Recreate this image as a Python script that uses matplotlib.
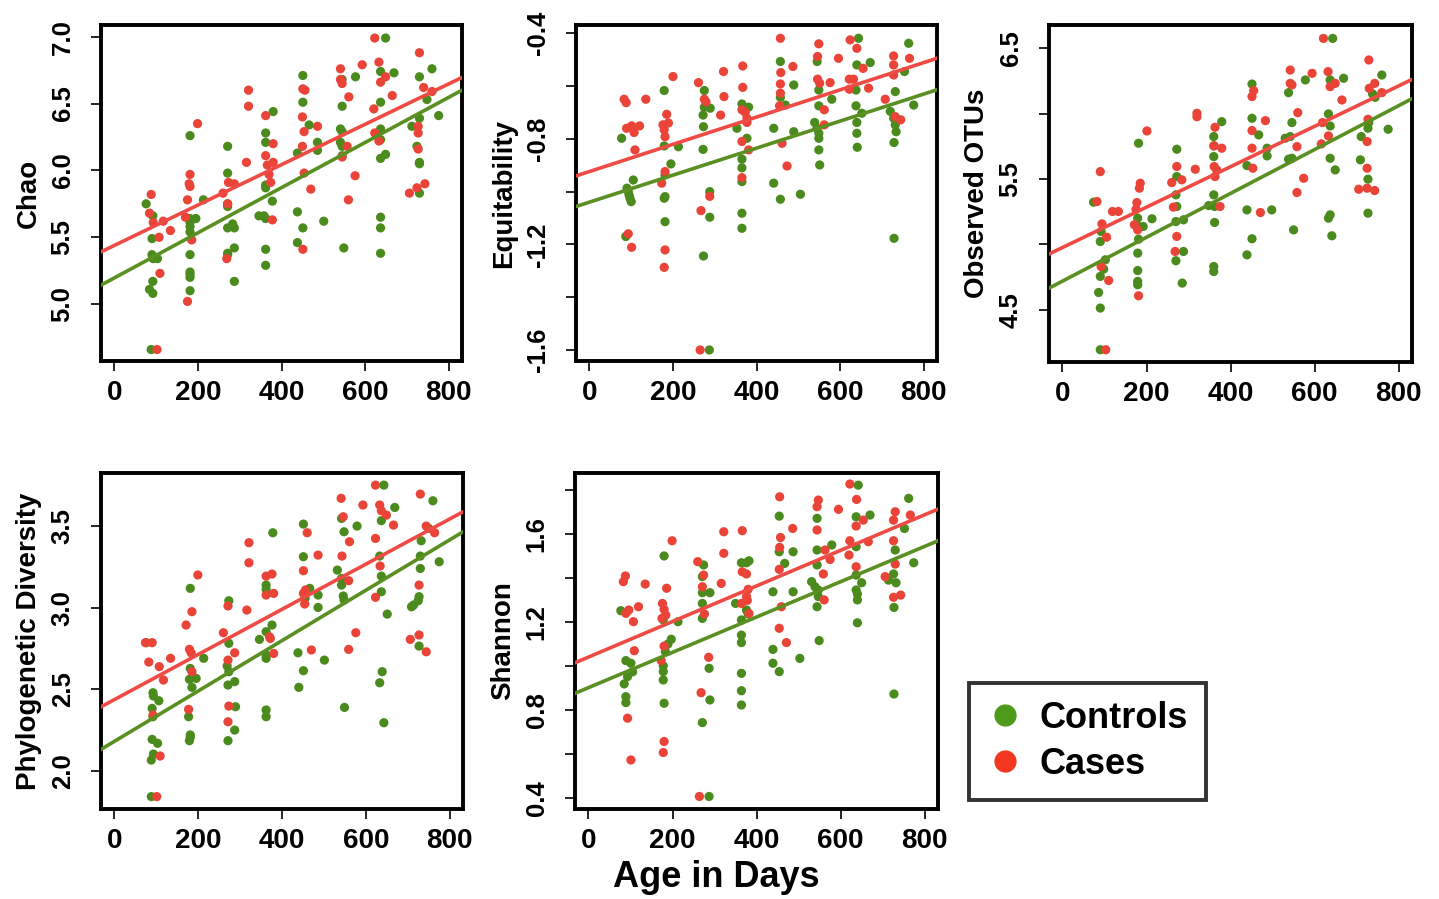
import numpy as np
import matplotlib.pyplot as plt
from matplotlib.lines import Line2D

plt.rcParams['font.family'] = ['Liberation Sans', 'DejaVu Sans']
plt.rcParams['font.weight'] = 'bold'

# ---- Chao ----
chao_ctrl_x = [76, 92, 90, 90, 93, 103, 92, 84, 92, 88,
               181, 181, 181, 181, 181, 181, 181, 181, 181, 181, 195, 213,
               271, 271, 271, 271, 271, 271, 271, 287, 287, 287, 283,
               362, 362, 362, 362, 362, 362, 362, 358, 346, 380, 378,
               438, 438, 438, 451, 451, 451, 466, 486, 486, 501,
               541, 545, 541, 545, 545, 545, 545, 549, 577,
               637, 637, 637, 637, 637, 649, 649, 637, 637, 637, 669,
               730, 730, 730, 724, 730, 730, 712, 748, 760, 776]
chao_ctrl_y = [5.75, 5.66, 5.49, 5.37, 5.34, 5.34, 5.17, 5.11, 5.08, 4.66,
               6.26, 5.64, 5.61, 5.58, 5.54, 5.37, 5.24, 5.22, 5.20, 5.10, 5.64, 5.78,
               6.18, 5.98, 5.75, 5.73, 5.57, 5.38, 5.37, 5.57, 5.42, 5.17, 5.60,
               6.28, 6.21, 5.89, 5.87, 5.64, 5.41, 5.29, 5.66, 5.66, 6.44, 5.77,
               6.13, 5.69, 5.46, 5.57, 6.71, 6.51, 6.34, 6.21, 6.15, 5.62,
               6.31, 6.29, 6.21, 6.18, 6.11, 6.68, 6.48, 5.42, 6.70,
               6.51, 6.31, 6.23, 6.09, 6.74, 6.12, 6.99, 5.65, 5.57, 5.38, 6.73,
               6.70, 6.39, 6.05, 6.18, 6.06, 5.83, 6.33, 6.53, 6.76, 6.41]
chao_case_x = [88, 84, 93, 117, 107, 134, 109, 102,
               181, 181, 175, 185, 175, 179, 199, 170,
               260, 273, 287, 269, 271, 316, 321, 321,
               362, 362, 366, 374, 378, 380, 380, 370,
               451, 456, 450, 454, 450, 454, 451, 470, 486,
               541, 541, 545, 545, 557, 560, 561, 576, 593,
               623, 633, 637, 633, 623, 621, 649, 665,
               730, 727, 727, 727, 706, 724, 743, 740, 760]
chao_case_y = [5.82, 5.68, 5.61, 5.62, 5.50, 5.55, 5.23, 4.66,
               5.97, 5.88, 5.78, 5.48, 5.02, 5.90, 6.35, 5.65,
               5.83, 5.91, 5.90, 5.34, 5.75, 6.06, 6.60, 6.48,
               6.41, 6.11, 6.04, 5.91, 5.63, 6.06, 6.20, 5.97,
               6.61, 6.60, 6.40, 6.29, 6.18, 5.98, 5.41, 5.86, 6.33,
               6.76, 6.68, 6.65, 6.10, 6.18, 5.78, 6.55, 5.96, 6.79,
               6.99, 6.81, 6.66, 6.22, 6.28, 6.46, 6.70, 6.56,
               6.88, 6.33, 6.28, 6.16, 5.83, 5.87, 5.90, 6.62, 6.59]

# ---- Equitability ----
equ_ctrl_x = [77, 90, 93, 95, 97, 100, 105, 87,
              179, 179, 181, 181, 181, 179, 195, 213,
              275, 275, 272, 273, 272, 289, 288, 288, 273, 287,
              365, 365, 365, 365, 365, 365, 353, 377, 381,
              441, 441, 457, 457, 469, 457, 489, 489, 505,
              545, 549, 549, 539, 545, 549, 549, 549, 551, 580,
              644, 640, 638, 638, 640, 640, 641, 652, 672,
              764, 754, 732, 720, 728, 732, 734, 729, 729, 776]
equ_ctrl_y = [-0.798, -0.987, -1.000, -1.013, -1.025, -1.038, -0.956, -1.170,
              -0.617, -0.827, -0.937, -1.019, -1.114, -1.025, -0.895, -0.830,
              -0.617, -0.680, -0.710, -0.754, -0.840, -0.684, -1.000, -1.097, -1.244, -1.600,
              -0.668, -0.877, -0.910, -0.962, -1.082, -1.139, -0.760, -0.798, -0.680,
              -0.760, -0.968, -0.507, -0.643, -0.672, -1.029, -0.596, -0.773, -1.010,
              -0.507, -0.615, -0.675, -0.738, -0.760, -0.779, -0.798, -0.842, -0.899, -0.650,
              -0.419, -0.520, -0.615, -0.675, -0.738, -0.779, -0.832, -0.703, -0.511,
              -0.438, -0.545, -0.621, -0.696, -0.722, -0.747, -0.773, -0.814, -1.177, -0.672]
equ_case_x = [83, 88, 89, 101, 107, 120, 109, 135, 93, 101,
              200, 185, 176, 179, 181, 173, 181, 181, 179, 189,
              261, 275, 279, 267, 288, 321, 322, 314, 265,
              367, 367, 365, 377, 365, 365, 377, 381, 373,
              457, 458, 457, 457, 455, 461, 473, 487,
              549, 546, 546, 551, 562, 562, 576, 596,
              624, 640, 622, 632, 622, 655, 668,
              728, 728, 728, 766, 708, 732, 745]
equ_case_y = [-0.650, -0.663, -0.760, -0.751, -0.776, -0.751, -0.842, -0.650, -1.160, -1.211,
              -0.564, -0.707, -0.747, -0.766, -0.792, -0.968, -0.924, -1.221, -1.287, -0.740,
              -0.587, -0.650, -0.660, -1.072, -1.018, -0.545, -0.640, -0.710, -1.600,
              -0.524, -0.605, -0.690, -0.722, -0.810, -0.947, -0.738, -0.842, -0.700,
              -0.419, -0.549, -0.592, -0.627, -0.675, -0.817, -0.903, -0.526,
              -0.440, -0.488, -0.574, -0.589, -0.690, -0.747, -0.587, -0.495,
              -0.425, -0.457, -0.574, -0.574, -0.612, -0.533, -0.608,
              -0.486, -0.520, -0.558, -0.495, -0.650, -0.716, -0.728]

# ---- Observed OTUs ----
otu_ctrl_x = [74, 92, 90, 102, 98, 90, 86, 90, 90,
              181, 179, 181, 181, 179, 179, 179, 179, 192, 213,
              272, 272, 270, 272, 270, 288, 288, 270, 285,
              360, 360, 360, 360, 362, 362, 360, 360, 379, 348,
              439, 439, 451, 439, 451, 451, 467, 487, 487, 498,
              538, 546, 542, 538, 546, 550, 530, 578,
              643, 637, 633, 637, 637, 649, 637, 633, 641, 669,
              760, 738, 744, 729, 727, 711, 709, 727, 727, 775]
otu_ctrl_y = [5.323, 5.099, 5.022, 4.882, 4.811, 4.755, 4.632, 4.513, 4.194,
              5.774, 5.201, 5.137, 5.040, 4.933, 4.800, 4.717, 4.691, 5.137, 5.196,
              5.728, 5.519, 5.379, 5.290, 5.175, 5.188, 4.946, 4.875, 4.704,
              5.825, 5.754, 5.672, 5.379, 5.290, 5.168, 4.831, 4.793, 5.939, 5.297,
              5.603, 5.264, 5.043, 4.920, 6.227, 5.965, 5.838, 5.736, 5.677, 5.264,
              6.161, 5.932, 5.825, 5.652, 5.659, 5.111, 5.812, 6.258,
              6.576, 6.258, 5.998, 5.906, 5.659, 5.570, 5.226, 5.201, 5.066, 6.271,
              6.296, 6.151, 6.125, 5.932, 5.889, 5.825, 5.647, 5.499, 5.239, 5.881]
otu_case_x = [90, 82, 94, 105, 92, 110, 103, 119, 133,
              201, 185, 183, 177, 175, 171, 179, 181,
              260, 272, 284, 264, 272, 268,
              320, 320, 316,
              363, 361, 379, 361, 367, 375, 363,
              451, 455, 451, 451, 453, 471, 483,
              542, 542, 546, 558, 560, 558, 574, 594,
              621, 632, 637, 649, 616, 619, 633, 665,
              729, 727, 725, 725, 705, 725, 743, 743, 730, 760]
otu_case_y = [5.557, 5.328, 5.157, 5.055, 4.831, 4.724, 4.194, 5.252, 5.252,
              5.868, 5.468, 5.430, 5.320, 5.269, 5.150, 5.111, 4.607,
              5.473, 5.596, 5.494, 5.285, 5.061, 4.946,
              6.003, 5.977, 5.575,
              5.896, 5.754, 5.736, 5.596, 5.570, 5.290, 5.519,
              6.131, 6.176, 5.871, 5.736, 5.583, 5.244, 5.947,
              6.334, 6.232, 6.220, 5.748, 6.008, 5.397, 5.506, 6.309,
              6.576, 6.322, 6.207, 6.232, 5.769, 5.932, 5.830, 6.105,
              6.411, 5.957, 5.787, 5.583, 5.422, 5.430, 5.412, 6.232, 6.194, 6.161]

# ---- Phylogenetic Diversity ----
pd_ctrl_x = [76, 92, 93, 106, 90, 92, 90, 103, 93, 88, 88,
             181, 181, 179, 185, 177, 181, 181, 179, 195, 213,
             273, 273, 269, 273, 271, 287, 289, 287, 271,
             362, 362, 378, 376, 346, 362, 362, 362, 362, 362,
             438, 440, 451, 451, 451, 455, 466, 486, 486, 501,
             532, 542, 548, 542, 542, 546, 548, 549, 579,
             643, 637, 633, 637, 637, 639, 633, 643, 651, 669,
             760, 732, 730, 730, 727, 725, 714, 709, 727, 750, 775]
pd_ctrl_y = [2.785, 2.478, 2.458, 2.429, 2.382, 2.331, 2.192, 2.168, 2.102, 2.065, 1.841,
             3.118, 2.627, 2.560, 2.511, 2.331, 2.219, 2.205, 2.184, 2.566, 2.689,
             3.042, 2.781, 2.642, 2.607, 2.525, 2.546, 2.392, 2.249, 2.184,
             3.138, 3.112, 3.459, 2.893, 2.805, 2.852, 2.709, 2.689, 2.372, 2.331,
             2.723, 2.511, 3.512, 3.312, 2.613, 3.057, 3.118, 3.077, 3.001, 2.678,
             3.230, 3.547, 3.465, 3.179, 3.138, 3.071, 3.046, 2.388, 3.500,
             3.751, 3.533, 3.316, 3.193, 3.097, 2.607, 2.539, 2.294, 2.960, 3.614,
             3.655, 3.410, 3.316, 3.240, 3.067, 3.042, 3.016, 3.005, 2.764, 3.486, 3.281]
pd_case_x = [74, 90, 82, 107, 117, 134, 92, 109, 101,
             199, 185, 171, 179, 183, 185, 177,
             260, 271, 287, 271, 273, 271, 316, 321, 321,
             362, 362, 376, 380, 370, 380, 372,
             451, 456, 454, 451, 460, 470, 486,
             541, 543, 546, 559, 561, 559, 576, 593,
             623, 633, 637, 649, 623, 634, 623, 666,
             730, 727, 727, 706, 744, 744, 764]
pd_case_y = [2.785, 2.785, 2.666, 2.638, 2.556, 2.689, 2.341, 2.090, 1.841,
             3.200, 2.975, 2.893, 2.744, 2.723, 2.607, 2.376,
             2.846, 3.010, 2.723, 2.678, 2.396, 2.300, 2.985, 3.398, 3.275,
             3.193, 3.077, 3.206, 3.087, 2.821, 2.719, 2.811,
             3.087, 3.108, 3.022, 3.226, 3.459, 2.740, 3.322,
             3.670, 3.316, 3.557, 3.165, 3.404, 2.744, 2.846, 3.629,
             3.751, 3.629, 3.594, 3.567, 3.424, 3.255, 3.063, 3.506,
             3.696, 3.138, 2.832, 2.805, 2.729, 3.500, 3.459]

# ---- Shannon ----
sha_ctrl_x = [77, 89, 101, 93, 105, 85, 89, 89,
              180, 178, 197, 189, 183, 178, 178, 178, 180, 213,
              274, 271, 271, 271, 271, 289, 287, 289, 271, 287,
              364, 376, 382, 350, 364, 364, 364, 364, 364, 364, 376, 380,
              439, 439, 439, 454, 454, 454, 467, 487, 487, 503,
              544, 544, 544, 531, 539, 547, 547, 544, 549, 579,
              642, 637, 637, 637, 637, 640, 640, 640, 650, 670,
              762, 752, 730, 714, 726, 732, 727, 727, 774]
sha_ctrl_y = [1.253, 1.026, 1.014, 0.953, 0.975, 0.920, 0.862, 0.835,
              1.502, 1.211, 1.123, 1.101, 1.067, 1.002, 0.976, 0.938, 0.832, 1.203,
              1.461, 1.408, 1.335, 1.286, 1.218, 1.335, 0.991, 0.847, 0.744, 0.408,
              1.471, 1.471, 1.480, 1.286, 1.211, 1.142, 1.108, 0.968, 0.889, 0.824, 1.256, 1.238,
              1.339, 1.077, 1.014, 1.683, 1.521, 0.976, 1.468, 1.521, 1.339, 1.036,
              1.673, 1.529, 1.461, 1.385, 1.362, 1.347, 1.317, 1.271, 1.117, 1.552,
              1.824, 1.680, 1.544, 1.415, 1.347, 1.329, 1.302, 1.198, 1.380, 1.688,
              1.764, 1.627, 1.529, 1.392, 1.420, 1.380, 1.268, 0.874, 1.471]
sha_case_x = [83, 88, 89, 96, 107, 119, 109, 135, 93, 101,
              199, 186, 176, 180, 184, 173, 180, 180, 178, 175,
              260, 274, 271, 276, 286, 268, 264, 322, 322, 316,
              366, 366, 376, 376, 364, 382, 380, 378,
              455, 457, 455, 454, 459, 454, 471, 486,
              547, 544, 544, 563, 559, 561, 575, 595,
              622, 638, 622, 620, 637, 637, 654, 666,
              730, 726, 766, 726, 706, 730, 726, 743]
sha_case_y = [1.385, 1.411, 1.241, 1.256, 1.203, 1.271, 1.071, 1.374, 0.764, 0.574,
              1.571, 1.355, 1.286, 1.259, 1.233, 1.026, 1.092, 0.658, 0.608, 1.218,
              1.476, 1.415, 1.362, 1.238, 1.041, 0.880, 0.408, 1.612, 1.514, 1.377,
              1.617, 1.430, 1.420, 1.317, 1.286, 1.240, 1.350, 1.300,
              1.771, 1.586, 1.541, 1.441, 1.271, 1.173, 1.108, 1.627,
              1.756, 1.726, 1.620, 1.529, 1.420, 1.302, 1.486, 1.714,
              1.829, 1.759, 1.571, 1.506, 1.638, 1.453, 1.665, 1.567,
              1.703, 1.665, 1.688, 1.571, 1.408, 1.465, 1.314, 1.324]

# fitted lines (intercept, slope)
chao_fit = {"ctrl": (5.196, 0.001688), "case": (5.439, 0.00151)}
equ_fit = {"ctrl": (-1.040, 0.000512), "case": (-0.924, 0.000516)}
otu_fit = {"ctrl": (4.719, 0.001678), "case": (4.976, 0.001546)}
pd_fit = {"ctrl": (2.180, 0.001544), "case": (2.436, 0.001384)}
sha_fit = {"ctrl": (0.903, 0.000803), "case": (1.042, 0.000809)}

x_ticks = [0, 200, 400, 600, 800]
x_lim = (-32, 832)

green = "#4b8b1d"
red = "#ea4438"
green_line = "#5a8f22"
red_line = "#ef4b45"

panels = [
    # name, ctrl x, ctrl y, case x, case y, fit, ylim, yticks, labelled ticks, rect
    ("Chao", chao_ctrl_x, chao_ctrl_y, chao_case_x, chao_case_y, chao_fit,
     (4.574, 7.087), [5.0, 5.5, 6.0, 6.5, 7.0], [5.0, 5.5, 6.0, 6.5, 7.0],
     [0.0702, 0.5984, 0.2509, 0.3737]),
    ("Equitability", equ_ctrl_x, equ_ctrl_y, equ_case_x, equ_case_y, equ_fit,
     (-1.642, -0.369), [-1.6, -1.4, -1.2, -1.0, -0.8, -0.6, -0.4], [-1.6, -1.2, -0.8, -0.4],
     [0.4003, 0.5984, 0.2509, 0.3737]),
    ("Observed OTUs", otu_ctrl_x, otu_ctrl_y, otu_case_x, otu_case_y, otu_fit,
     (4.10, 6.678), [4.5, 5.0, 5.5, 6.0, 6.5], [4.5, 5.5, 6.5],
     [0.7290, 0.5973, 0.2523, 0.3748]),
    ("Phylogenetic Diversity", pd_ctrl_x, pd_ctrl_y, pd_case_x, pd_case_y, pd_fit,
     (1.765, 3.825), [2.0, 2.5, 3.0, 3.5], [2.0, 2.5, 3.0, 3.5],
     [0.0702, 0.1001, 0.2516, 0.3737]),
    ("Shannon", sha_ctrl_x, sha_ctrl_y, sha_case_x, sha_case_y, sha_fit,
     (0.351, 1.879), [0.4, 0.6, 0.8, 1.0, 1.2, 1.4, 1.6, 1.8], [0.4, 0.8, 1.2, 1.6],
     [0.3996, 0.1001, 0.2523, 0.3737]),
]

fig = plt.figure(figsize=(14.39, 8.99), dpi=100)

for name, cx, cy, kx, ky, fit, ylim, yt, ylab, rect in panels:
    ax = fig.add_axes(rect)
    ax.scatter(cx, cy, s=44, color=green, edgecolors="none", zorder=3)
    ax.scatter(kx, ky, s=44, color=red, edgecolors="none", zorder=3)
    xs = np.array(x_lim)
    ax.plot(xs, fit["case"][0] + fit["case"][1] * xs, color=red_line, lw=2.6, zorder=4)
    ax.plot(xs, fit["ctrl"][0] + fit["ctrl"][1] * xs, color=green_line, lw=2.6, zorder=4)
    ax.set_xlim(x_lim)
    ax.set_ylim(ylim)
    ax.set_xticks(x_ticks)
    ax.set_xticklabels([str(t) for t in x_ticks])
    ax.set_yticks(yt)
    ax.set_yticklabels([f"{t:.1f}" if t in ylab else "" for t in yt],
                       rotation=90, va="center")
    ax.tick_params(axis="x", length=7, width=1.2, pad=7, labelsize=20)
    ax.tick_params(axis="y", length=7, width=1.2, pad=12, labelsize=18.5)
    for sp in ax.spines.values():
        sp.set_linewidth(2.8)
    ax.set_ylabel(name, fontsize=20, fontweight="bold", labelpad=6)

fig.text(0.4976, 0.0133, "Age in Days", ha="center", va="baseline",
         fontsize=26, fontweight="bold")

handles = [Line2D([], [], marker="o", ls="", color="#4e9a1a", markersize=15),
           Line2D([], [], marker="o", ls="", color="#f2361f", markersize=15)]
leg = fig.legend(handles, ["Controls", "Cases"], loc="center",
                 bbox_to_anchor=(0.7558, 0.1756), frameon=True,
                 fancybox=False, edgecolor="black", handletextpad=0.46,
                 labelspacing=0.3, borderpad=0.5, handlelength=1.0,
                 borderaxespad=0, prop={"weight": "bold", "size": 26})
leg.get_frame().set_linewidth(2.8)

fig.savefig("out.png", dpi=100)
